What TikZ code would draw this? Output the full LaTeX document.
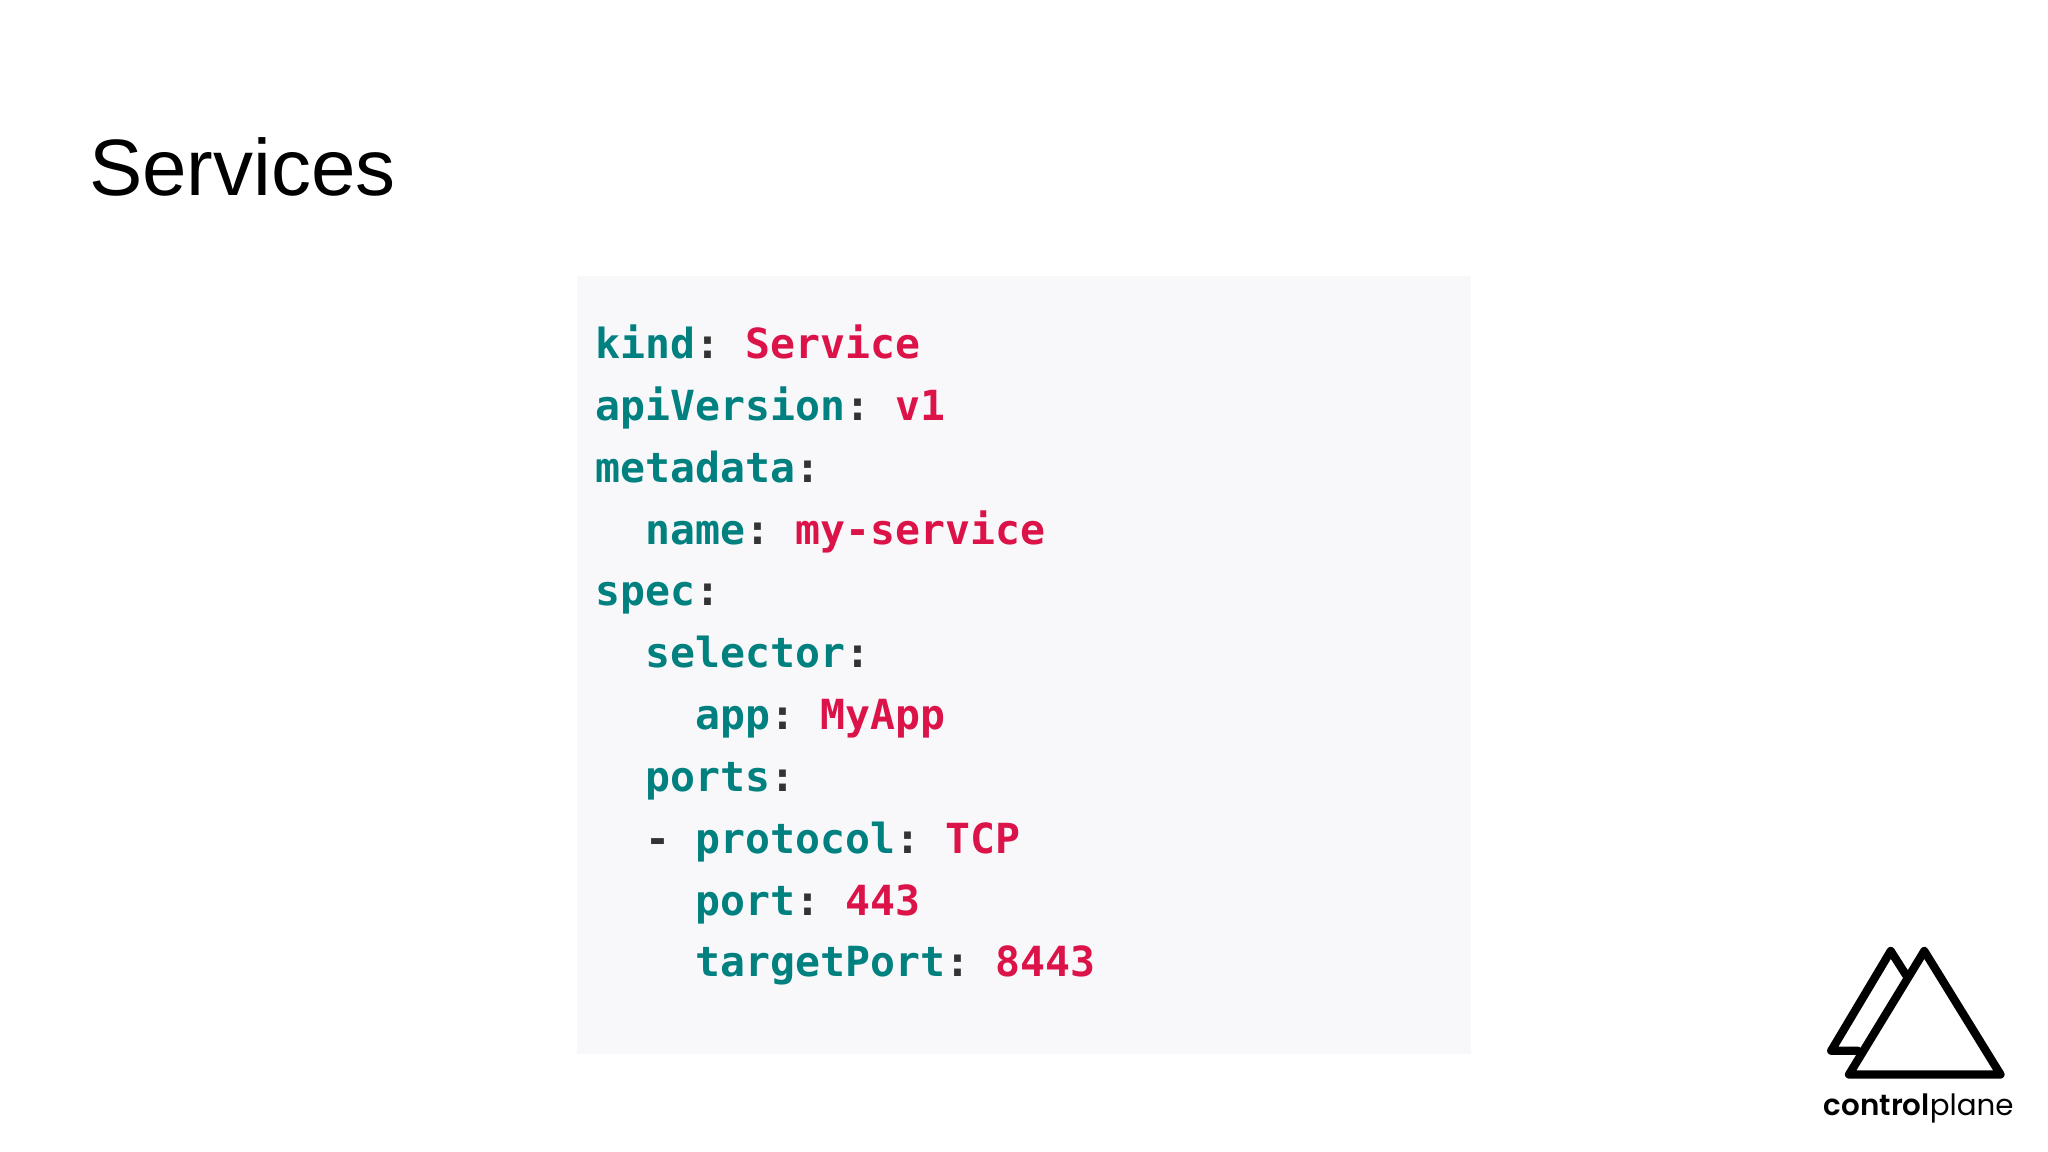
\documentclass[tikz,border=0pt]{standalone}
\usepackage{fontspec}
\setmainfont{Liberation Sans}
\newfontfamily\codefont{DejaVu Sans Mono}
\newfontfamily\logofont{Poppins}[BoldFont={Poppins SemiBold}]

\definecolor{blockbg}{HTML}{F8F7FA}
\definecolor{yamlkey}{HTML}{00807F}
\definecolor{yamlval}{HTML}{DC1349}
\definecolor{yamlmark}{HTML}{333333}

\newcommand{\ykey}[1]{\textcolor{yamlkey}{#1}\textcolor{yamlmark}{:}}
\newcommand{\yval}[1]{\textcolor{yamlval}{#1}}

\tikzset{
  codeline/.style={anchor=base west,inner sep=0pt,
    font=\codefont\bfseries\frenchspacing\fontsize{23.6}{28}\selectfont},
  logoline/.style={line width=4.7pt,line join=round,line cap=round}
}

\begin{document}
\begin{tikzpicture}[x=0.02cm,y=-0.02cm]
\useasboundingbox (0,0) rectangle (2048,1152);

\node[anchor=base west,inner sep=0pt,font=\fontsize{45.5}{54}\selectfont] (title) at (88.7,195) {Services};

\fill[blockbg] (577,276) rectangle (1471,1054);

\node[codeline] (kind) at (595.5,358.3) {\ykey{kind} \yval{Service}};
\node[codeline] (version) at (595.5,420.2) {\ykey{apiVersion} \yval{v1}};
\node[codeline] (metadata) at (595.5,482.1) {\ykey{metadata}};
\node[codeline] (name) at (645.5,544) {\ykey{name} \yval{my-service}};
\node[codeline] (spec) at (595.5,605.7) {\ykey{spec}};
\node[codeline] (selector) at (645.5,667.6) {\ykey{selector}};
\node[codeline] (app) at (695.5,729.5) {\ykey{app} \yval{MyApp}};
\node[codeline] (ports) at (645.5,791.4) {\ykey{ports}};
\node[codeline] (dash) at (645.5,853.2) {\textcolor{yamlmark}{-} \ykey{protocol} \yval{TCP}};
\node[codeline] (port) at (695.5,915) {\ykey{port} \yval{443}};
\node[codeline] (target) at (695.5,976.8) {\ykey{targetPort} \yval{8443}};

% logo
\draw[logoline] (1924.3,951) -- (1849,1074.5) -- (2000.5,1074.5) -- cycle;
\draw[logoline] (1906,975) -- (1890.7,951) -- (1831.2,1050.7) -- (1858,1050.7);

\node[anchor=base west,inner sep=0pt,font=\logofont\fontsize{16.7}{20}\selectfont] (brand) at (1823.5,1115) {\textbf{control}plane};
\end{tikzpicture}
\end{document}
